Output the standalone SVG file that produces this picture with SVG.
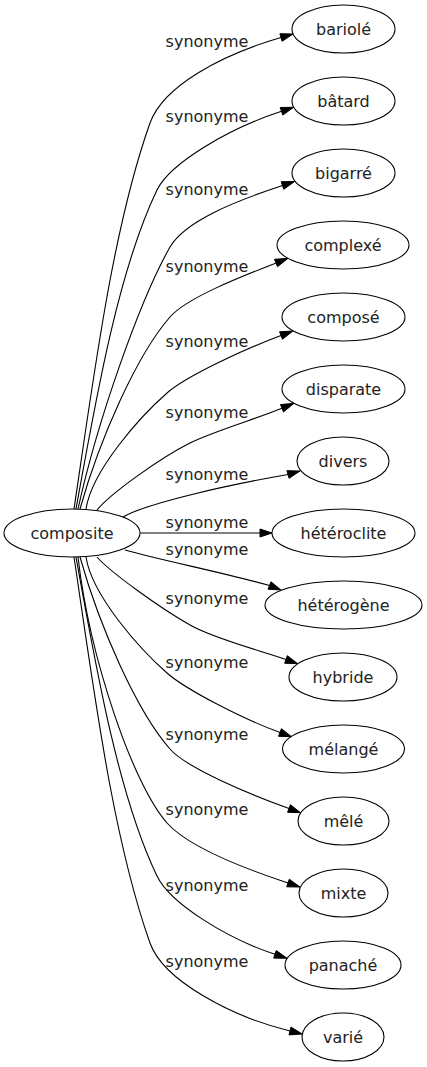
<svg xmlns="http://www.w3.org/2000/svg" width="427" height="1067" viewBox="0 0 427 1067">
<style>
.n ellipse{fill:none;stroke:#000;stroke-width:1.1}
text{font-family:"DejaVu Sans",Verdana,sans-serif;font-size:16px;fill:#222;text-anchor:middle}
.e path{fill:none;stroke:#000;stroke-width:1.1}
.e polygon{fill:#000;stroke:#000;stroke-width:1}
</style>
<rect width="427" height="1067" fill="#fff"/>
<g id="edges" class="e">
<path d="M74,509 C93.5,379 112,230 150,123 C163.4,85.3 223,54.3 281,37.5"/>
<polygon points="293.1,34 282.1,41.3 279.9,33.7"/>
<text x="207" y="47">synonyme</text>
<path d="M76,509 C95.8,399 118,271 157,190 C170,163 229,128.4 281.5,111.3"/>
<polygon points="293.6,107.3 282.8,115.1 280.2,107.5"/>
<text x="207" y="122">synonyme</text>
<path d="M78,509 C97.8,419 140,300 170,247 C185,221 235,201.2 282.5,185.5"/>
<polygon points="294.5,181.5 283.8,189.3 281.2,181.7"/>
<text x="207" y="195">synonyme</text>
<path d="M80,509 C99.6,439 137,354.5 170,317 C186.5,298 238.8,277.6 276,263"/>
<polygon points="288,258.3 277.5,266.7 274.5,259.3"/>
<text x="207" y="272">synonyme</text>
<path d="M86,509 C92,470 140.75,416 167,393 C185.75,376.5 243.5,349.5 281,335.5"/>
<polygon points="293,331 282.4,339.25 279.6,331.75"/>
<text x="207" y="347">synonyme</text>
<path d="M97,510 C110,494 160,458 190,443 C212.25,431.75 258.9,417.9 282,408.3"/>
<polygon points="294,403.3 283.5,412 280.5,404.6"/>
<text x="207" y="418">synonyme</text>
<path d="M123,517 C147,503 228,485 288,474.5"/>
<polygon points="300,471 289.1,478.3 286.9,470.7"/>
<text x="207" y="480">synonyme</text>
<path d="M140.3,533 L260,533"/>
<polygon points="272,533 260,537 260,529"/>
<text x="207" y="528">synonyme</text>
<path d="M125,550 C160,560 225,573 269.5,585.5"/>
<polygon points="281,590 268,589.2 271,581.8"/>
<text x="207" y="555">synonyme</text>
<path d="M97,557 C110,572 160,608 190,625 C212.25,638 262.4,651.3 286,659.5"/>
<polygon points="297.5,663.5 284.7,663.3 287.3,655.7"/>
<text x="207" y="604">synonyme</text>
<path d="M86,557 C92,596 140.75,650 167,673 C185.75,689.5 242.4,718.8 280,732.5"/>
<polygon points="291.5,736.7 278.6,736.3 281.4,728.7"/>
<text x="207" y="668">synonyme</text>
<path d="M80,557 C99.6,627 137,711.5 170,749 C186.5,768 249,794 289,808.5"/>
<polygon points="300.5,812.7 287.6,812.3 290.4,804.7"/>
<text x="207" y="740">synonyme</text>
<path d="M78,557 C90,660 133.5,785.5 167,823 C187,845.5 242.4,867.9 288,883"/>
<polygon points="300,887 286.7,886.8 289.3,879.2"/>
<text x="207" y="815">synonyme</text>
<path d="M76,557 C95.8,667 118,795 157,876 C170,903 225.6,938 275,954.3"/>
<polygon points="287,958.3 273.7,958.1 276.3,950.5"/>
<text x="207" y="891">synonyme</text>
<path d="M74,557 C93.5,687 112,836 150,943 C163.4,980.7 231.8,1016.8 290,1031"/>
<polygon points="302.3,1034 289,1034.9 291,1027.1"/>
<text x="207" y="967">synonyme</text>
</g>
<g id="composite" class="n"><ellipse cx="72" cy="533" rx="68" ry="24"/><text x="72" y="538.5">composite</text></g>
<g id="bariole" class="n"><ellipse cx="343.5" cy="29" rx="51.5" ry="24"/><text x="343.5" y="34.5">bariolé</text></g>
<g id="batard" class="n"><ellipse cx="343.5" cy="101" rx="51.5" ry="24"/><text x="343.5" y="106.5">bâtard</text></g>
<g id="bigarre" class="n"><ellipse cx="343.5" cy="173" rx="51.5" ry="24"/><text x="343.5" y="178.5">bigarré</text></g>
<g id="complexe" class="n"><ellipse cx="343" cy="245" rx="66" ry="24"/><text x="343" y="250.5">complexé</text></g>
<g id="compose" class="n"><ellipse cx="343.5" cy="317" rx="61.5" ry="24"/><text x="343.5" y="322.5">composé</text></g>
<g id="disparate" class="n"><ellipse cx="343.5" cy="389" rx="61.5" ry="24"/><text x="343.5" y="394.5">disparate</text></g>
<g id="divers" class="n"><ellipse cx="343" cy="461" rx="46" ry="24"/><text x="343" y="466.5">divers</text></g>
<g id="heteroclite" class="n"><ellipse cx="343.5" cy="533" rx="71.5" ry="24"/><text x="343.5" y="538.5">hétéroclite</text></g>
<g id="heterogene" class="n"><ellipse cx="343.5" cy="605" rx="78.5" ry="24"/><text x="343.5" y="610.5">hétérogène</text></g>
<g id="hybride" class="n"><ellipse cx="343" cy="677" rx="54" ry="24"/><text x="343" y="682.5">hybride</text></g>
<g id="melange" class="n"><ellipse cx="343.5" cy="749" rx="61" ry="24"/><text x="343.5" y="754.5">mélangé</text></g>
<g id="mele" class="n"><ellipse cx="343.5" cy="821" rx="45.5" ry="24"/><text x="343.5" y="826.5">mêlé</text></g>
<g id="mixte" class="n"><ellipse cx="343.5" cy="893" rx="44.5" ry="24"/><text x="343.5" y="898.5">mixte</text></g>
<g id="panache" class="n"><ellipse cx="343" cy="965" rx="58" ry="24"/><text x="343" y="970.5">panaché</text></g>
<g id="varie" class="n"><ellipse cx="343" cy="1037" rx="41" ry="24"/><text x="343" y="1042.5">varié</text></g>
</svg>
